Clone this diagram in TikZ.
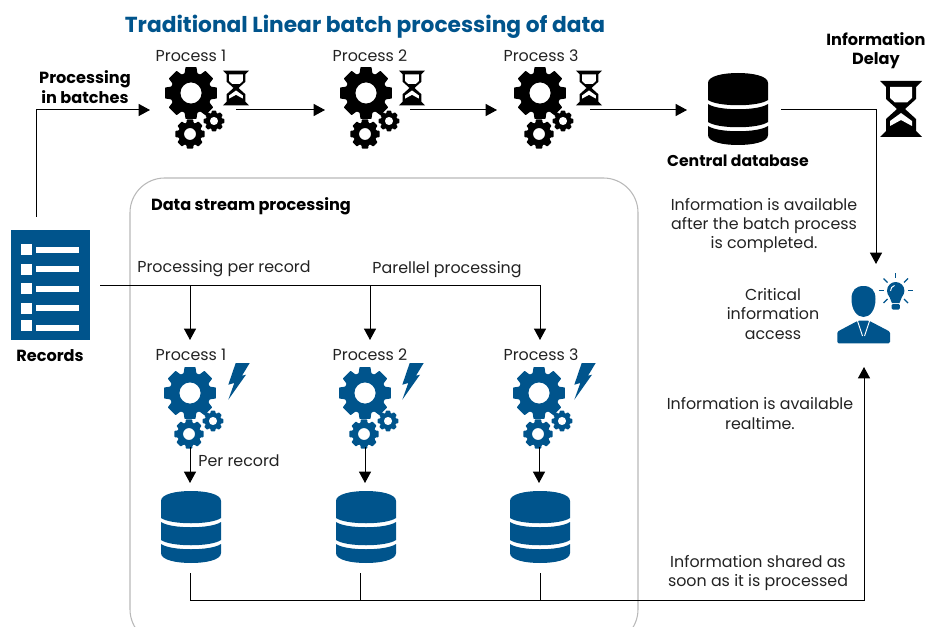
\documentclass[tikz,border=0pt]{standalone}
\usepackage{fontspec}
\setmainfont{Poppins}
\usetikzlibrary{arrows.meta}
\definecolor{brandblue}{HTML}{00548C}
\definecolor{boxgray}{HTML}{B8B8B8}
\definecolor{inktext}{HTML}{222222}
\tikzset{
    lbl/.style={inner sep=0pt,outer sep=0pt,align=center,font=\fontsize{11.9}{14.5}\selectfont,text=inktext},
    lblbold/.style={inner sep=0pt,outer sep=0pt,align=center,font=\fontsize{12.1}{14.5}\selectfont\bfseries,text=black},
    spot/.style={inner sep=0pt,outer sep=0pt},
    flow/.style={-{Triangle[length=8.5pt,width=9pt]},line width=0.75pt},
    wire/.style={line width=0.75pt}
}
% one toothed wheel: x, y, radius, colour
\def\OneGear#1#2#3#4{
    \begin{scope}[shift={(#1,#2)}]
    \fill[#4,even odd rule,rounded corners=0.5pt] (-18:#3*.78)
        \foreach \i in {0,45,...,315} {
            -- (\i-12:#3) -- (\i+12:#3) -- (\i+18:#3*.78) -- (\i+27:#3*.78)
        } -- cycle
        (0,0) circle (#3*.40);
    \end{scope}
}
% three wheels together: x and y of the large one, colour
\def\GearSet#1#2#3{
    \OneGear{#1}{#2}{26.5}{#3}
    \OneGear{#1-1}{#2+41}{15}{#3}
    \OneGear{#1+23}{#2+28}{10.5}{#3}
}
% x, top y, colour
\def\DbStack#1#2#3{
    \begin{scope}[shift={(#1,#2)},#3]
    \fill (-30,27) -- (-30,10) .. controls (-30,3) and (-15,0) .. (0,0) .. controls (15,0) and (30,3) .. (30,10)
        -- (30,27) .. controls (20,34) and (-20,34) .. (-30,27) -- cycle;
    \fill (-30,31) .. controls (-20,38) and (20,38) .. (30,31) -- (30,49) .. controls (20,56) and (-20,56) .. (-30,49) -- cycle;
    \fill (-30,53) .. controls (-20,60) and (20,60) .. (30,53) -- (30,62) .. controls (30,69) and (15,72) .. (0,72)
        .. controls (-15,72) and (-30,69) .. (-30,62) -- cycle;
    \end{scope}
}
% x, y, scale
\def\Sandglass#1#2#3{
    \begin{scope}[shift={(#1,#2)},scale=#3]
    \fill[black] (-21,-28) -- (21,-28) -- (15,-22) -- (15,-10) -- (4,0) -- (15,10) -- (15,22) -- (21,28)
        -- (-21,28) -- (-15,22) -- (-15,10) -- (-4,0) -- (-15,-10) -- (-15,-22) -- cycle;
    \fill[white] (-11,-22) -- (11,-22) -- (11,-11) -- (6,-6.5) -- (-6,-6.5) -- (-11,-11) -- cycle;
    \fill[white] (0,4) -- (11,12) -- (11,17) -- (0,11) -- (-11,17) -- (-11,12) -- cycle;
    \end{scope}
}
% x and y of the top left corner
\def\Bolt#1#2{
    \fill[brandblue,shift={(#1,#2)}] (7.7,1) -- (21.7,1) -- (14,13.7) -- (18,12.7) -- (0.3,37.7) -- (6.3,21) -- (0.3,22.7) -- cycle;
}

\begin{document}
\begin{tikzpicture}[x=0.75pt,y=-0.75pt]
    \useasboundingbox (0,0) rectangle (927,627);
    \node[spot,draw=boxgray,line width=0.8pt,rounded corners=26pt,minimum width=381pt,minimum height=349.5pt] (streamBox) at (384,411) {};

    \node[lblbold,font=\fontsize{16.3}{18}\selectfont\bfseries,text=brandblue] (title) at (365,27) {Traditional Linear batch processing of data};
    \node[lblbold] (batchLbl) at (85,87) {Processing\\in batches};
    \node[lblbold] (delayLbl) at (876,51) {Information\\Delay};
    \node[lblbold,font=\fontsize{11.75}{14.5}\selectfont\bfseries] (mainDbLbl) at (738,161) {Central database};
    \node[lblbold] (streamLbl) at (251,206) {Data stream processing};
    \node[lblbold] (recordsLbl) at (50,356) {Records};
    \node[lbl] (batchA) at (191,56) {Process 1};
    \node[lbl] (batchB) at (370,56) {Process 2};
    \node[lbl] (batchC) at (541,56) {Process 3};
    \node[lbl] (liveLblA) at (191,355) {Process 1};
    \node[lbl] (liveLblB) at (370,355) {Process 2};
    \node[lbl] (liveLblC) at (541,355) {Process 3};
    \node[lbl] (perRecordLbl) at (224,269) {Processing per record};
    \node[lbl] (parallelLbl) at (447,270) {Parellel processing};
    \node[lbl] (perLbl) at (239,461) {Per record};
    \node[lbl] (afterLbl) at (764,225.5) {Information is available\\after the batch process\\is completed.};
    \node[lbl] (criticalLbl) at (773,314) {Critical\\information\\access};
    \node[lbl] (realtimeLbl) at (760,413.5) {Information is available\\realtime.};
    \node[lbl] (sharedLbl) at (758,573) {Information shared as\\soon as it is processed};

    % slots that the connectors run to
    \node[spot,minimum width=64.5pt,minimum height=60pt] (gearsA) at (193,110) {};
    \node[spot,minimum width=63.75pt,minimum height=60pt] (gearsB) at (367.5,110) {};
    \node[spot,minimum width=69.75pt,minimum height=60pt] (gearsC) at (543.5,110) {};
    \node[spot,minimum width=70.5pt,minimum height=60pt] (mainDb) at (734,110) {};
    \node[spot,minimum width=60pt,minimum height=80.25pt] (liveA) at (190,393.5) {};
    \node[spot,minimum width=60pt,minimum height=80.25pt] (liveB) at (365,393.5) {};
    \node[spot,minimum width=60pt,minimum height=80.25pt] (liveC) at (539,393.5) {};
    \node[spot,minimum width=45pt,minimum height=67.5pt] (storeA) at (190,528) {};
    \node[spot,minimum width=45pt,minimum height=67.5pt] (storeB) at (360,528) {};
    \node[spot,minimum width=45pt,minimum height=67.5pt] (storeC) at (540,528) {};
    \node[spot,fill=brandblue,minimum width=59.25pt,minimum height=82.5pt] (records) at (50.5,285) {};

    \GearSet{191}{93}{black}
    \GearSet{366}{93}{black}
    \GearSet{540}{93}{black}
    \GearSet{190}{393}{brandblue}
    \GearSet{365}{393}{brandblue}
    \GearSet{539}{393}{brandblue}
    \Sandglass{236}{88}{0.62}
    \Sandglass{412}{88}{0.62}
    \Sandglass{589}{88}{0.62}
    \Sandglass{901}{109}{1}
    \Bolt{228}{362}
    \Bolt{402}{362}
    \Bolt{574}{362}
    \DbStack{738}{73}{black}
    \DbStack{191}{491}{brandblue}
    \DbStack{366}{491}{brandblue}
    \DbStack{540}{491}{brandblue}

    % records sheet
    \fill[white] (21,244) rectangle (32,255);
    \fill[white] (21,264) rectangle (32,275);
    \fill[white] (21,283) rectangle (32,294);
    \fill[white] (21,303) rectangle (32,314);
    \fill[white] (21,320) rectangle (32,331);
    \fill[white] (36,247) rectangle (79,253);
    \fill[white] (36,266) rectangle (79,272);
    \fill[white] (36,286) rectangle (79,292);
    \fill[white] (36,305) rectangle (79,311);
    \fill[white] (36,325) rectangle (79,331);

    % person with a bulb
    \fill[brandblue] (863.5,286) .. controls (871,286) and (875.5,290) .. (875.5,299) .. controls (875.5,310) and (870,317) .. (863.5,317)
        .. controls (857,317) and (851.5,310) .. (851.5,299) .. controls (851.5,290) and (856,286) .. (863.5,286) -- cycle;
    \fill[brandblue,rounded corners=1pt] (837.3,331.7) -- (858,320.7) -- (869,320.7) -- (890,331.7) -- (890,343.3) -- (837.3,343.3) -- cycle;
    \draw[white,line width=0.7pt] (857.5,321) -- (862.5,336);
    \draw[white,line width=0.7pt] (869.5,321) -- (864.5,336);
    \fill[brandblue] (895.7,290.7) circle (8.7);
    \fill[brandblue] (888.7,295) -- (902.7,295) -- (899.5,303) -- (891.9,303) -- cycle;
    \fill[brandblue,rounded corners=1pt] (891.5,304) rectangle (899.9,309.5);
    \draw[white,line width=0.7pt] (890.5,291) .. controls (890.5,288) and (892,286.5) .. (894.5,285.5);
    \draw[brandblue,line width=1pt] (895.7,273.3) -- (895.7,278.3);
    \draw[brandblue,line width=1pt] (878.5,290.7) -- (883.5,290.7);
    \draw[brandblue,line width=1pt] (908,290.7) -- (913,290.7);
    \draw[brandblue,line width=1pt] (883.5,278.5) -- (887.5,282.5);
    \draw[brandblue,line width=1pt] (908,278.5) -- (904,282.5);
    \draw[brandblue,line width=1pt] (883.5,303) -- (887.5,299);
    \draw[brandblue,line width=1pt] (908,303) -- (904,299);

    \coordinate (recUp) at (36,217);
    \coordinate (recOut) at (100,285);
    \coordinate (forkA) at (190,285);
    \coordinate (forkB) at (370,285);
    \coordinate (forkC) at (540,285);
    \coordinate (personTop) at (876,264);
    \coordinate (personLow) at (864,367);
    \coordinate (busEnd) at (864,600);

    \draw[flow] (recUp) |- (gearsA.west);
    \draw[flow] (gearsA.east) -- (gearsB.west);
    \draw[flow] (gearsB.east) -- (gearsC.west);
    \draw[flow] (gearsC.east) -- (mainDb.west);
    \draw[flow] (mainDb.east) -| (personTop);
    \draw[wire] (recOut) -- (forkC);
    \draw[flow] (forkA) -- (liveA.north);
    \draw[flow] (forkB) -- (forkB |- liveB.north);
    \draw[flow] (forkC) -- (forkC |- liveC.north);
    \draw[flow] (liveA.south) -- (storeA.north);
    \draw[flow] (liveB.south) -- (storeB.north -| liveB.south);
    \draw[flow] (liveC.south) -- (storeC.north -| liveC.south);
    \draw[flow] (storeA.south) |- (busEnd) -- (personLow);
    \draw[wire] (storeB.south) -- (storeB.south |- busEnd);
    \draw[wire] (storeC.south) -- (storeC.south |- busEnd);
\end{tikzpicture}
\end{document}
